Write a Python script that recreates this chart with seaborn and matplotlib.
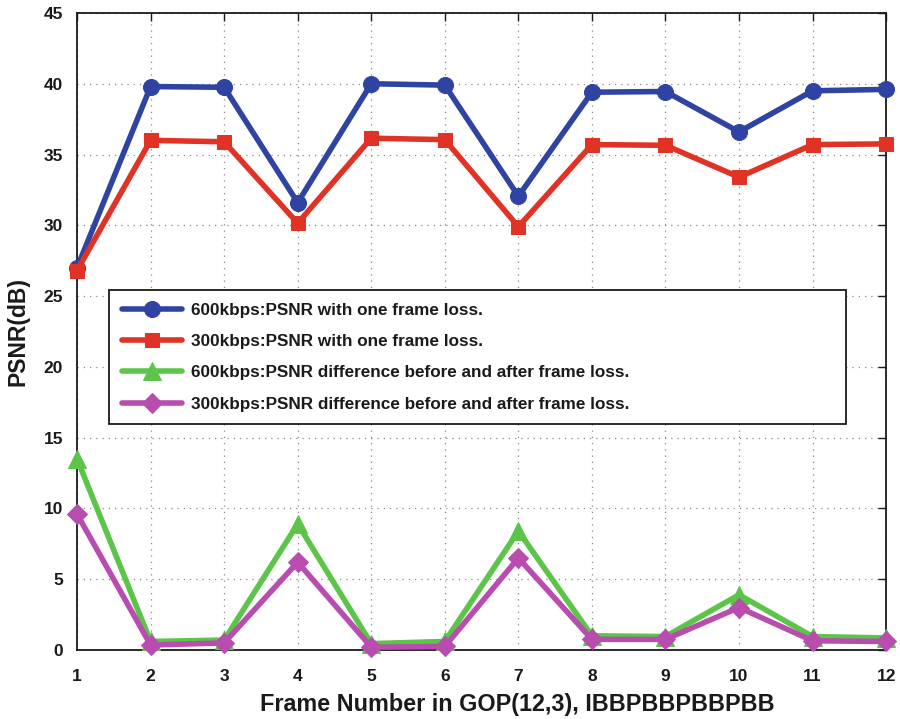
import matplotlib
matplotlib.use("Agg")
import matplotlib.pyplot as plt
import seaborn as sns
import pandas as pd

frames = list(range(1, 13))
blue_600_psnr = [27.0, 39.8, 39.75, 31.6, 40.0, 39.9, 32.05, 39.4, 39.45, 36.6, 39.5, 39.6]
red_300_psnr = [26.8, 36.0, 35.9, 30.15, 36.15, 36.05, 29.9, 35.7, 35.65, 33.4, 35.7, 35.75]
green_600_diff = [13.5, 0.6, 0.7, 8.9, 0.45, 0.6, 8.4, 1.0, 0.95, 3.9, 0.95, 0.85]
purple_300_diff = [9.6, 0.35, 0.5, 6.2, 0.2, 0.25, 6.5, 0.75, 0.75, 3.0, 0.65, 0.6]
labels = [
    "600kbps:PSNR with one frame loss.",
    "300kbps:PSNR with one frame loss.",
    "600kbps:PSNR difference before and after frame loss.",
    "300kbps:PSNR difference before and after frame loss.",
]
colors = ["#2F44A2", "#E03225", "#5CC449", "#B84DAF"]
markers = ["o", "s", "^", "D"]
msizes = [11.5, 10.5, 12.5, 10.5]

sns.set_style("white")
plt.rcParams["font.family"] = ["Liberation Sans", "DejaVu Sans"]
plt.rcParams["font.weight"] = "bold"

fig = plt.figure(figsize=(9, 7.19), dpi=100)
ax = fig.add_axes([0.0856, 0.096, 0.899, 0.886])

series = [blue_600_psnr, red_300_psnr, green_600_diff, purple_300_diff]
for vals, lab, col, mk, ms in zip(series, labels, colors, markers, msizes):
    df = pd.DataFrame({"frame": frames, "val": vals})
    sns.lineplot(data=df, x="frame", y="val", ax=ax, color=col, marker=mk,
                 markersize=ms, markeredgecolor=col, linewidth=4.0, label=lab,
                 clip_on=False, zorder=3)

ax.set_xlim(1, 12)
ax.set_ylim(0, 45)
ax.set_xticks(frames)
ax.set_yticks(range(0, 46, 5))
ax.grid(True, color="#888888", linestyle=(0, (1, 4)), linewidth=0.9)
ax.tick_params(direction="in", length=6, width=1, top=True, right=True,
               labelsize=12.5, colors="#1a1a1a")
ax.tick_params(axis="x", pad=14)
ax.tick_params(axis="y", pad=10)
for lab in ax.get_xticklabels() + ax.get_yticklabels():
    lab.set_fontweight("bold")
for s in ax.spines.values():
    s.set_linewidth(1.3)
    s.set_color("#1a1a1a")
ax.set_xlabel("Frame Number in GOP(12,3), IBBPBBPBBPBB", fontsize=16.8,
              fontweight="bold", color="#1a1a1a", labelpad=8)
ax.xaxis.set_label_coords(0.544, -0.068)
ax.set_ylabel("PSNR(dB)", fontsize=16.5, fontweight="bold", color="#1a1a1a",
              labelpad=10)

leg = ax.legend(loc="upper left", bbox_to_anchor=(0.04, 0.336, 0.91, 0.229),
                mode="expand", frameon=True, fancybox=False, fontsize=12.3,
                borderaxespad=0, handlelength=3.5, handletextpad=0.55,
                labelspacing=0.95, borderpad=0.75)
leg.get_frame().set_edgecolor("#1a1a1a")
leg.get_frame().set_linewidth(1.3)
leg.get_frame().set_alpha(1)
for t in leg.get_texts():
    t.set_fontweight("bold")
    t.set_color("#1a1a1a")

fig.savefig("out.png", dpi=100)
